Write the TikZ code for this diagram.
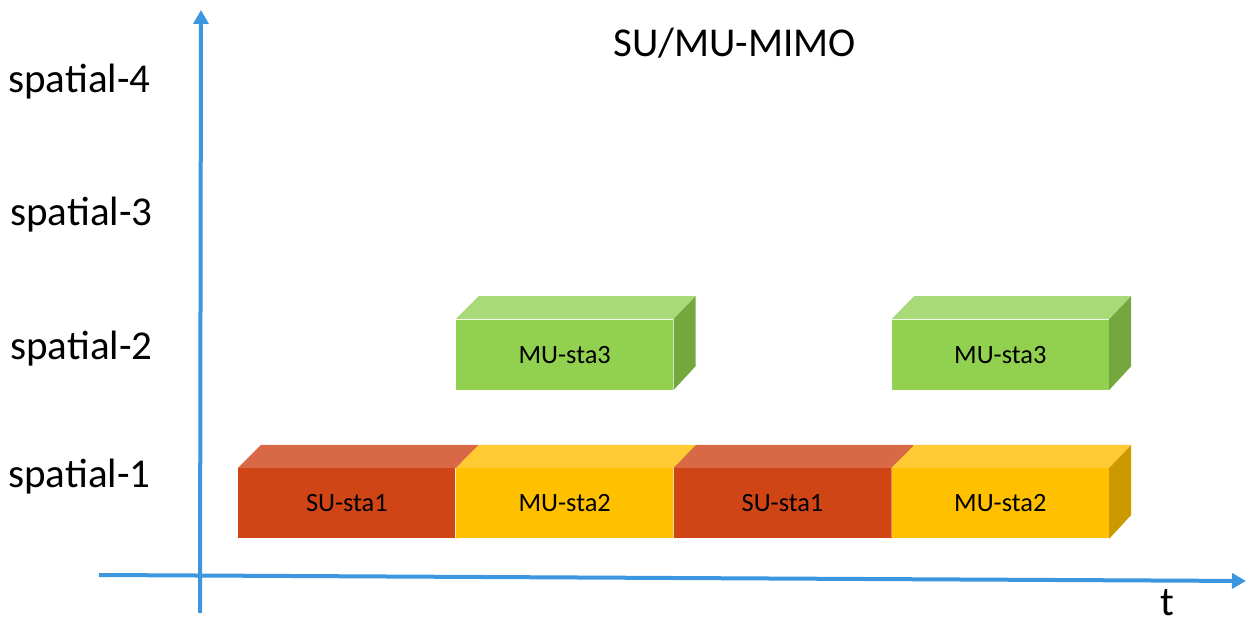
\documentclass[tikz,border=0pt]{standalone}
\usepackage{fontspec}
\setmainfont{Carlito}
\usetikzlibrary{positioning, arrows.meta}

\definecolor{axisblue}{HTML}{3C96E0}
\definecolor{sured}{HTML}{D04516}
\definecolor{suredtop}{HTML}{D96847}
\definecolor{muyellow}{HTML}{FFC000}
\definecolor{muyellowtop}{HTML}{FFCA33}
\definecolor{muyellowside}{HTML}{CC9A00}
\definecolor{mugreen}{HTML}{92D050}
\definecolor{mugreentop}{HTML}{A8DA77}
\definecolor{mugreenside}{HTML}{74A83F}

\tikzset{
  slot/.style={rectangle, inner sep=0pt, minimum width=108.5pt, minimum height=35pt,
               font=\fontsize{13.2}{15}\selectfont},
  axis/.style={axisblue, line width=2pt, -{Triangle[length=7pt,width=7.5pt]}},
  lbl/.style={anchor=base west, inner sep=0pt, font=\fontsize{20.5}{24}\selectfont}
}

% top and right faces of a slot
\newcommand{\slotfaces}[3]{%
  \fill[#2] (#1.north west) -- (#1.north east) -- ++(11pt,11.5pt) -- ++(-108.5pt,0pt) -- cycle;
  \fill[#3] (#1.north east) -- ++(11pt,11.5pt) -- ++(0pt,-35pt) -- (#1.south east) -- cycle;
}

\begin{document}
\begin{tikzpicture}[x=0.5pt, y=-0.5pt]
  \useasboundingbox (0,0) rectangle (1249,624);

  % axes
  \coordinate (yb) at (200,613);
  \coordinate (yt) at (201,10);
  \coordinate (xl) at (99,575);
  \coordinate (xr) at (1246,581);
  \draw[axis] (yb) -- (yt);
  \draw[axis] (xl) -- (xr);

  \node[lbl] (sp4) at (8,93)  {spatial-4};
  \node[lbl] (sp3) at (10,226) {spatial-3};
  \node[lbl] (sp2) at (10,360) {spatial-2};
  \node[lbl] (sp1) at (8,488) {spatial-1};
  \node[lbl] (title) at (613,57) {SU/MU-MIMO};
  \node[lbl, anchor=base] (tlabel) at (1167,616) {t};

  % spatial-1
  \node[slot, fill=sured, anchor=north west] (su1a) at (238,468) {SU-sta1};
  \slotfaces{su1a}{suredtop}{sured}
  \node[slot, fill=muyellow, right=0pt of su1a] (mu2a) {MU-sta2};
  \slotfaces{mu2a}{muyellowtop}{muyellowside}
  \node[slot, fill=sured, right=0pt of mu2a] (su1b) {SU-sta1};
  \slotfaces{su1b}{suredtop}{sured}
  \node[slot, fill=muyellow, right=0pt of su1b] (mu2b) {MU-sta2};
  \slotfaces{mu2b}{muyellowtop}{muyellowside}

  % spatial-2
  \node[slot, fill=mugreen, above=39pt of mu2a] (mu3a) {MU-sta3};
  \slotfaces{mu3a}{mugreentop}{mugreenside}
  \node[slot, fill=mugreen, above=39pt of mu2b] (mu3b) {MU-sta3};
  \slotfaces{mu3b}{mugreentop}{mugreenside}
\end{tikzpicture}
\end{document}
